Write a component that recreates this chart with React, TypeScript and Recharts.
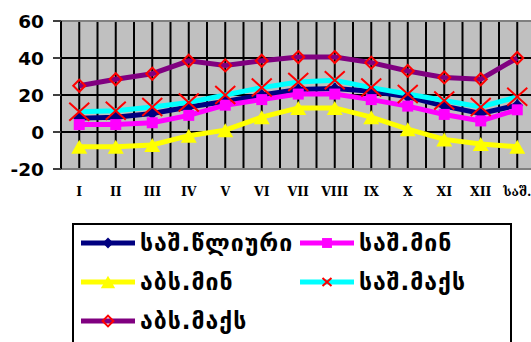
import React from "react";
import {
  LineChart,
  Line,
  XAxis,
  YAxis,
  CartesianGrid,
  ReferenceLine,
} from "recharts";

// Monthly temperature summary (°C), last category is the annual value
const months = ["I", "II", "III", "IV", "V", "VI", "VII", "VIII", "IX", "X", "XI", "XII", "საშ."];
const avgAnnual = [7.5, 8, 10, 13.5, 16.5, 20, 23, 23.5, 22, 19, 14, 10, 14.5];
const avgMin = [4, 4, 5, 9, 14.5, 17.5, 20.5, 20.5, 17.5, 14, 9.5, 6, 12];
const absMin = [-8, -8, -7, -2, 1, 8, 13, 13, 8, 1.5, -4, -6.5, -8];
const avgMax = [11, 11.5, 13.5, 16, 20, 24, 27, 28, 24, 20.5, 17, 13.5, 19];
const absMax = [25, 28.5, 31.5, 38.5, 36, 38.5, 40.5, 40.5, 37.5, 33, 29.5, 28.5, 40];
const yTicks = [-20, 0, 20, 40, 60];

const seriesNames = ["საშ.წლიური", "საშ.მინ", "აბს.მინ", "საშ.მაქს", "აბს.მაქს"];

const data = months.map((m, i) => ({
  month: m,
  annual: avgAnnual[i],
  avgMin: avgMin[i],
  absMin: absMin[i],
  avgMax: avgMax[i],
  absMax: absMax[i],
}));

const CHART_W = 560;
const PLOT_LEFT = 61;
const PLOT_W = 474.5;
const BAND = PLOT_W / months.length;

type MarkerKind = "diamond" | "square" | "triangle" | "cross" | "hollowDiamond";

function Marker({ kind, cx, cy, color, scale = 1 }: { kind: MarkerKind; cx: number; cy: number; color: string; scale?: number }) {
  if (cx == null || cy == null) return null;
  if (kind === "diamond") {
    const r = 6 * scale;
    return <path d={`M${cx},${cy - r} L${cx + r},${cy} L${cx},${cy + r} L${cx - r},${cy} Z`} fill={color} />;
  }
  if (kind === "square") {
    const r = 5.5 * scale;
    return <rect x={cx - r} y={cy - r} width={2 * r} height={2 * r} fill={color} />;
  }
  if (kind === "triangle") {
    const w = 8 * scale;
    const h = 7 * scale;
    return <path d={`M${cx},${cy - h} L${cx + w},${cy + h} L${cx - w},${cy + h} Z`} fill={color} />;
  }
  if (kind === "cross") {
    const r = 10 * scale;
    const ry = 9 * scale;
    return (
      <path
        d={`M${cx - r},${cy - ry} L${cx + r},${cy + ry} M${cx + r},${cy - ry} L${cx - r},${cy + ry}`}
        stroke={color}
        strokeWidth={2}
        fill="none"
      />
    );
  }
  const r = 6 * scale;
  return (
    <path
      d={`M${cx},${cy - r} L${cx + r},${cy} L${cx},${cy + r} L${cx - r},${cy} Z`}
      fill="none"
      stroke={color}
      strokeWidth={2}
    />
  );
}

const series = [
  { key: "annual", name: seriesNames[0], color: "#000080", marker: "diamond" as MarkerKind, markerColor: "#000080" },
  { key: "avgMin", name: seriesNames[1], color: "#FF00FF", marker: "square" as MarkerKind, markerColor: "#FF00FF" },
  { key: "absMin", name: seriesNames[2], color: "#FFFF00", marker: "triangle" as MarkerKind, markerColor: "#FFFF00" },
  { key: "avgMax", name: seriesNames[3], color: "#00FFFF", marker: "cross" as MarkerKind, markerColor: "#FF0000" },
  { key: "absMax", name: seriesNames[4], color: "#800080", marker: "hollowDiamond" as MarkerKind, markerColor: "#FF0000" },
];

function LegendBox() {
  const colX = [9, 228];
  const rowY = [20, 59, 98];
  return (
    <div
      style={{
        position: "absolute",
        left: 72,
        top: 223,
        width: 440,
        height: 150,
        border: "2px solid #000",
        boxSizing: "border-box",
        background: "#fff",
      }}
    >
      {series.map((s, i) => {
        const x = colX[i % 2];
        const y = rowY[Math.floor(i / 2)];
        const small = s.marker === "cross" ? 0.45 : 0.9;
        return (
          <div key={s.key} style={{ position: "absolute", left: x - 2, top: y - 2 - 15 }}>
            <svg width={56} height={30} style={{ position: "absolute", left: 0, top: 0 }}>
              <line x1={0} x2={54} y1={15} y2={15} stroke={s.color} strokeWidth={5} />
              <Marker kind={s.marker} cx={27} cy={15} color={s.markerColor} scale={small} />
            </svg>
            <span
              style={{
                position: "absolute",
                left: 59,
                top: 0,
                lineHeight: "30px",
                whiteSpace: "nowrap",
                fontFamily: "'DejaVu Sans', sans-serif",
                fontWeight: "bold",
                fontSize: 23,
                letterSpacing: 1,
                color: "#000",
              }}
            >
              {s.name}
            </span>
          </div>
        );
      })}
    </div>
  );
}

export default function App() {
  return (
    <div
      style={{
        position: "absolute",
        left: 0,
        top: 0,
        width: 531,
        height: 342,
        overflow: "hidden",
        background: "#fff",
      }}
    >
      <LineChart
        width={CHART_W}
        height={220}
        data={data}
        margin={{ top: 21, right: CHART_W - PLOT_LEFT - PLOT_W, bottom: 20, left: 0 }}
      >
        <CartesianGrid
          fill="#C0C0C0"
          stroke="#000"
          strokeWidth={2}
          strokeOpacity={1}
          verticalCoordinatesGenerator={({ offset }: any) =>
            Array.from({ length: months.length * 2 + 1 }, (_, i) => offset.left + (i * offset.width) / (months.length * 2))
          }
        />
        <XAxis
          dataKey="month"
          scale="point"
          padding={{ left: BAND / 2, right: BAND / 2 }}
          height={31}
          tickLine={false}
          tickMargin={12}
          axisLine={{ stroke: "#808080", strokeWidth: 2 }}
          interval={0}
          tick={{ fill: "#000", fontFamily: "'DejaVu Serif', serif", fontWeight: "bold", fontSize: 12.5 }}
        />
        <YAxis
          domain={[-20, 60]}
          ticks={yTicks}
          width={PLOT_LEFT}
          tickSize={8}
          tickMargin={9}
          axisLine={{ stroke: "#000", strokeWidth: 2 }}
          tickLine={{ stroke: "#404040", strokeWidth: 2 }}
          tick={{ fill: "#000", fontFamily: "'DejaVu Sans', sans-serif", fontWeight: "bold", fontSize: 18.5 }}
        />
        <ReferenceLine y={60} stroke="#808080" strokeWidth={2} />
        {series.map((s) => (
          <Line
            key={s.key}
            dataKey={s.key}
            name={s.name}
            type="linear"
            stroke={s.color}
            strokeWidth={5}
            isAnimationActive={false}
            dot={(p: any) => (
              <Marker key={`${s.key}-${p.index}`} kind={s.marker} cx={p.cx} cy={p.cy} color={s.markerColor} />
            )}
            activeDot={false}
          />
        ))}
      </LineChart>
      <LegendBox />
    </div>
  );
}
